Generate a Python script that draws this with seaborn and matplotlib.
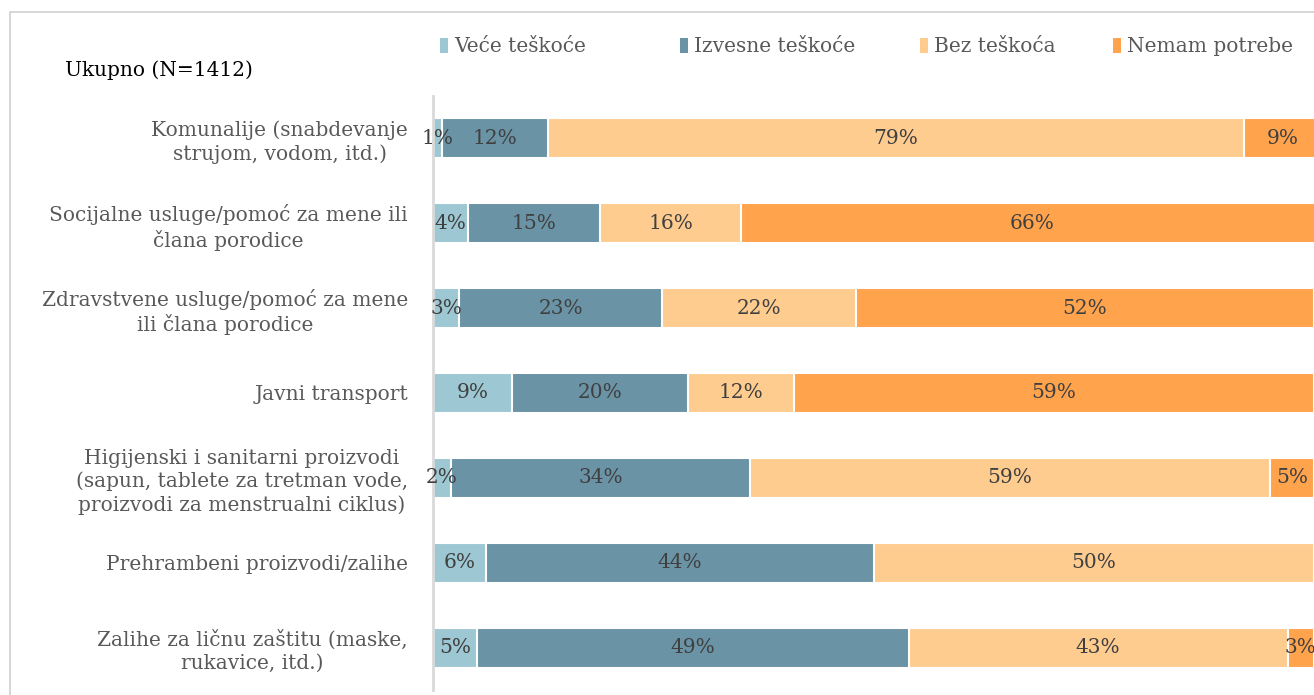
import numpy as np
import pandas as pd
import matplotlib
matplotlib.use("Agg")
import matplotlib.pyplot as plt
from matplotlib.patches import Patch, Rectangle
import seaborn as sns

# --------------------------
# Data
# --------------------------
categories = [
    "Komunalije (snabdevanje\nstrujom, vodom, itd.)",
    "Socijalne usluge/pomoć za mene ili\nčlana porodice",
    "Zdravstvene usluge/pomoć za mene\nili člana porodice",
    "Javni transport",
    "Higijenski i sanitarni proizvodi\n(sapun, tablete za tretman vode,\nproizvodi za menstrualni ciklus)",
    "Prehrambeni proizvodi/zalihe",
    "Zalihe za ličnu zaštitu (maske,\nrukavice, itd.)",
]
series_names = ["Veće teškoće", "Izvesne teškoće", "Bez teškoća", "Nemam potrebe"]
vece = [1, 4, 3, 9, 2, 6, 5]
izvesne = [12, 15, 23, 20, 34, 44, 49]
bez = [79, 16, 22, 12, 59, 50, 43]
nemam = [9, 66, 52, 59, 5, 0, 3]
title = "Ukupno (N=1412)"

colors = ["#9DC8D3", "#6A93A6", "#FFCC90", "#FFA34D"]

df = pd.DataFrame({"cat": categories, series_names[0]: vece,
                   series_names[1]: izvesne, series_names[2]: bez,
                   series_names[3]: nemam})
vals = df[series_names].to_numpy(dtype=float)
cum = vals.cumsum(axis=1)

# --------------------------
# Plot
# --------------------------
sns.set_style("white")
plt.rcParams["font.family"] = ["DejaVu Serif"]

fig = plt.figure(figsize=(13.14, 6.95), dpi=100)
ax = fig.add_axes([433 / 1314, 5 / 695, 1 - 433 / 1314, 594 / 695])

# stacked bars: overlay cumulative totals from the widest down
for i in range(3, -1, -1):
    d = pd.DataFrame({"cat": categories, "val": cum[:, i]})
    sns.barplot(data=d, x="val", y="cat", color=colors[i], saturation=1,
                width=0.47, edgecolor="white", linewidth=1.5, ax=ax,
                orient="h")

# data labels
for r in range(len(categories)):
    left = 0
    for i in range(4):
        v = vals[r, i]
        if v > 0:
            ax.text(left + v / 2, r, f"{int(v)}%", ha="center", va="center",
                    fontsize=14.5, color="#404040")
        left += v

ax.set_xlim(0, 100)
ax.set_ylim(6.5, -0.5)
ax.set_xlabel("")
ax.set_ylabel("")
ax.set_xticks([])
ax.tick_params(axis="y", length=0, pad=18, labelsize=14.5, labelcolor="#595959")
for lab in ax.get_yticklabels():
    lab.set_multialignment("center")
    lab.set_linespacing(1.25)
for s in ["top", "right", "bottom"]:
    ax.spines[s].set_visible(False)
ax.spines["left"].set_color("#D9D9D9")
ax.spines["left"].set_linewidth(2)

fig.text(65 / 1314, 1 - 70 / 695, title, fontsize=14.5, color="black",
         va="center", ha="left")

# legend entries, one per series, spread across the top
legend_x = [440, 680, 920, 1113]
for name, c, lx in zip(series_names, colors, legend_x):
    fig.legend([Patch(facecolor=c, edgecolor="none")], [name],
               loc="center left", bbox_to_anchor=(lx / 1314, 1 - 47 / 695),
               frameon=False, fontsize=14.5, labelcolor="#595959",
               handlelength=0.4, handleheight=0.8, handletextpad=0.3,
               borderpad=0, borderaxespad=0)

# outer chart frame
fig.add_artist(Rectangle((10 / 1314, -0.1), 2, 1.1 - 12 / 695,
                         transform=fig.transFigure, fill=False,
                         edgecolor="#D0D0D0", linewidth=1.2))

fig.savefig("out.png", dpi=100)
